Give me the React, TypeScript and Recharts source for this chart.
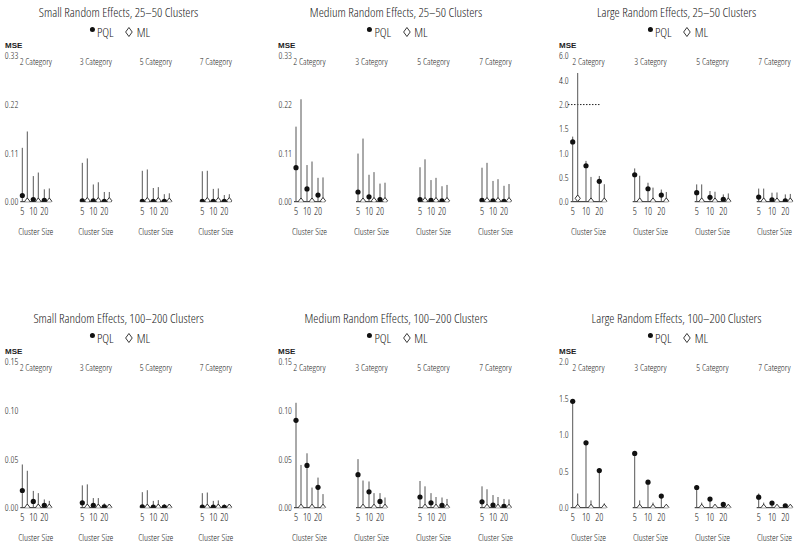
import { ScatterChart, Scatter, ErrorBar, XAxis, YAxis, ReferenceLine } from "recharts";

const categories = ["2 Category", "3 Category", "5 Category", "7 Category"];
const clusterSizes = ["5", "10", "20"];

// values run 2 Category [5, 10, 20], 3 Category [...], 5 Category [...], 7 Category [...]
const smallFewPql = [0.014, 0.005, 0.003, 0.002, 0.002, 0.001, 0.001, 0.001, 0.001, 0.001, 0.001, 0.001];
const smallFewPqlHi = [0.122, 0.058, 0.028, 0.088, 0.039, 0.022, 0.07, 0.031, 0.017, 0.069, 0.029, 0.015];
const smallFewMl = [0.001, 0.001, 0.001, 0.002, 0.002, 0.002, 0.002, 0.002, 0.001, 0.002, 0.002, 0.002];
const smallFewMlHi = [0.159, 0.066, 0.03, 0.098, 0.044, 0.022, 0.073, 0.033, 0.019, 0.07, 0.03, 0.017];

const mediumFewPql = [0.077, 0.029, 0.015, 0.022, 0.011, 0.005, 0.005, 0.003, 0.002, 0.003, 0.002, 0.001];
const mediumFewPqlHi = [0.17, 0.083, 0.054, 0.109, 0.061, 0.041, 0.078, 0.049, 0.035, 0.077, 0.047, 0.036];
const mediumFewMl = [0.001, 0.001, 0.002, 0.001, 0.002, 0.002, 0.002, 0.002, 0.002, 0.002, 0.002, 0.002];
const mediumFewMlHi = [0.232, 0.091, 0.055, 0.143, 0.067, 0.043, 0.096, 0.054, 0.038, 0.088, 0.051, 0.04];

const largeFewPql = [1.23, 0.74, 0.42, 0.555, 0.267, 0.137, 0.185, 0.09, 0.05, 0.096, 0.04, 0.015];
const largeFewPqlHi = [1.34, 0.84, 0.53, 0.685, 0.39, 0.25, 0.356, 0.22, 0.15, 0.27, 0.185, 0.15];
const largeFewMl = [0.07, 0.01, 0.01, 0.01, 0.01, 0.01, 0.01, 0.01, 0.01, 0.01, 0.01, 0.01];
const largeFewMlHi = [4.6, 0.51, 0.36, 0.534, 0.29, 0.2, 0.356, 0.205, 0.17, 0.27, 0.19, 0.16];

const smallManyPql = [0.0177, 0.0065, 0.0024, 0.005, 0.0024, 0.001, 0.001, 0.0007, 0.0005, 0.0005, 0.0005, 0.0003];
const smallManyPqlHi = [0.0445, 0.0173, 0.0085, 0.023, 0.0099, 0.0044, 0.016, 0.007, 0.0037, 0.015, 0.007, 0.0034];
const smallManyMl = [0.0004, 0.0004, 0.0004, 0.0004, 0.0004, 0.0004, 0.0004, 0.0004, 0.0004, 0.0004, 0.0004, 0.0004];
const smallManyMlHi = [0.038, 0.015, 0.007, 0.024, 0.0099, 0.0037, 0.018, 0.0078, 0.0037, 0.0156, 0.0075, 0.0037];

const mediumManyPql = [0.09, 0.0435, 0.021, 0.034, 0.0163, 0.0065, 0.011, 0.005, 0.0024, 0.006, 0.0027, 0.0014];
const mediumManyPqlHi = [0.108, 0.056, 0.031, 0.05, 0.027, 0.015, 0.0275, 0.015, 0.0105, 0.022, 0.013, 0.009];
const mediumManyMl = [0.0003, 0.0003, 0.0003, 0.0003, 0.0003, 0.0003, 0.0003, 0.0003, 0.0003, 0.0003, 0.0003, 0.0003];
const mediumManyMlHi = [0.044, 0.0207, 0.014, 0.028, 0.015, 0.0105, 0.022, 0.011, 0.009, 0.019, 0.011, 0.0085];

const largeManyPql = [1.46, 0.89, 0.51, 0.745, 0.35, 0.16, 0.277, 0.118, 0.045, 0.145, 0.064, 0.027];
const largeManyPqlHi = [1.49, 0.92, 0.54, 0.77, 0.38, 0.186, 0.31, 0.145, 0.07, 0.195, 0.086, 0.04];
const largeManyMl = [0.003, 0.003, 0.003, 0.003, 0.003, 0.003, 0.003, 0.003, 0.003, 0.003, 0.003, 0.003];
const largeManyMlHi = [0.195, 0.1, 0.06, 0.1, 0.07, 0.03, 0.07, 0.04, 0.02, 0.07, 0.03, 0.015];

const ticksFew = [0, 0.11, 0.22, 0.33];
const ticksMany = [0, 0.05, 0.1, 0.15];
const ticksLargeMany = [0, 0.5, 1, 1.5, 2];
const ticksLargeFew = [0, 0.5, 1, 1.5, 2, 4, 6];

const FONT = "'Open Sans', 'DejaVu Sans Condensed', sans-serif";
const INK = "#222";
const PAD = 3;

type Col = { left: number; x0: number; catStep: number; kStep: number; mStep: number; title: number; mse: number };
const columns: Col[] = [
  { left: 0, x0: 22.3, catStep: 60, kStep: 11, mStep: 5, title: 118.5, mse: 5 },
  { left: 262, x0: 296, catStep: 62, kStep: 11, mStep: 5, title: 396, mse: 278 },
  { left: 540, x0: 572.7, catStep: 62, kStep: 13.3, mStep: 5, title: 676.5, mse: 559 },
];

// broken axis above 2.0: 2..6 squeezed into one 0.5 step each 2 units
const squeeze = (v: number) => (v <= 2 ? v : 2 + (v - 2) / 4);
const plain = (v: number) => v;

type PanelProps = {
  title: string;
  top: number;
  col: Col;
  pql: number[];
  pqlHi: number[];
  ml: number[];
  mlHi: number[];
  ticks: number[];
  digits: number;
  broken?: boolean;
};

function Key({ cx, y }: { cx: number; y: number }) {
  return (
    <div
      style={{
        position: "absolute",
        left: cx,
        top: y,
        transform: "translate(-50%, -50%)",
        display: "flex",
        alignItems: "center",
        fontSize: 13,
        whiteSpace: "nowrap",
        lineHeight: "13px",
      }}
    >
      <svg width={6} height={13}>
        <circle cx={3} cy={4} r={2.5} fill="#111" />
      </svg>
      <span style={{ marginLeft: 2 }}>PQL</span>
      <svg width={9} height={13} style={{ marginLeft: 11 }}>
        <path d="M4.5,2 L7.8,6.5 L4.5,11 L1.2,6.5 Z" fill="none" stroke={INK} strokeWidth={0.9} />
      </svg>
      <span style={{ marginLeft: 3 }}>ML</span>
    </div>
  );
}

function Panel({ title, top, col, pql, pqlHi, ml, mlHi, ticks, digits, broken }: PanelProps) {
  const t = broken ? squeeze : plain;
  const { catStep, kStep, mStep } = col;
  const span = 3 * catStep + 2 * kStep + mStep;
  const plotLeft = col.x0 - PAD;
  const yWidth = plotLeft - col.left;
  const width = yWidth + span + 2 * PAD;
  const groupWidth = 2 * kStep + mStep;

  const build = (vals: number[], his: number[], shift: number) =>
    vals.map((v, i) => {
      const ci = Math.floor(i / 3);
      const ki = i % 3;
      const y = t(v);
      const hi = Math.max(t(his[i]), y);
      return { x: ci * catStep + ki * kStep + shift, y, err: [y, hi - y] };
    });

  const pqlRows = build(pql, pqlHi, 0);
  const mlRows = build(ml, mlHi, mStep);
  const sizeTicks = categories.flatMap((_, ci) => clusterSizes.map((_, ki) => ci * catStep + ki * kStep));
  const catTicks = categories.map((_, ci) => ci * catStep + groupWidth / 2);
  const yTicks = ticks.map(t);
  const domain = [-PAD, span + PAD];

  return (
    <>
      <div
        style={{
          position: "absolute",
          left: col.title,
          top: top + 11.5,
          transform: "translate(-50%, -50%)",
          fontSize: 13,
          whiteSpace: "nowrap",
        }}
      >
        {title}
      </div>
      <Key cx={col.title + 1} y={top + 32} />
      <div
        style={{
          position: "absolute",
          left: col.mse,
          top: top + 44.5,
          transform: "translateY(-50%)",
          fontFamily: "'Liberation Sans', Arial, sans-serif",
          fontWeight: "bold",
          fontStretch: "normal",
          fontSize: 8,
        }}
      >
        MSE
      </div>
      <div style={{ position: "absolute", left: col.left, top }}>
        <ScatterChart width={width} height={247} margin={{ top: 55, right: 0, bottom: 5.3, left: 0 }}>
          <XAxis
            xAxisId="a"
            type="number"
            dataKey="x"
            domain={domain}
            allowDataOverflow
            height={20}
            ticks={sizeTicks}
            interval={0}
            axisLine={false}
            tickLine={false}
            tickSize={0}
            tickMargin={6.5}
            tick={{ fontSize: 10, fill: INK }}
            tickFormatter={(v: number) => clusterSizes[sizeTicks.indexOf(v) % 3]}
          />
          <XAxis
            xAxisId="b"
            type="number"
            dataKey="x"
            domain={domain}
            allowDataOverflow
            height={20}
            ticks={catTicks}
            interval={0}
            axisLine={false}
            tickLine={false}
            tickSize={0}
            tickMargin={6.5}
            tick={{ fontSize: 9.5, fill: INK }}
            tickFormatter={() => "Cluster Size"}
          />
          <XAxis
            xAxisId="c"
            orientation="top"
            type="number"
            dataKey="x"
            domain={domain}
            allowDataOverflow
            height={1}
            ticks={catTicks}
            interval={0}
            axisLine={false}
            tickLine={false}
            tickSize={0}
            tickMargin={0}
            tick={(p: any) => (
              <text x={p.x} y={p.y + 9} textAnchor="middle" fontSize={9.5} fill={INK}>
                {categories[p.index]}
              </text>
            )}
          />
          <YAxis
            type="number"
            dataKey="y"
            domain={[0, yTicks[yTicks.length - 1]]}
            allowDataOverflow
            ticks={yTicks}
            interval={0}
            width={yWidth}
            axisLine={false}
            tickLine={false}
            tickSize={0}
            tickMargin={1}
            tick={{ fontSize: 9.5, fill: INK }}
            tickFormatter={(v: number) => ticks[yTicks.indexOf(v)].toFixed(digits)}
          />
          {categories.map((c, ci) => (
            <ReferenceLine
              key={c}
              xAxisId="a"
              segment={[
                { x: ci * catStep - 2, y: 0 },
                { x: ci * catStep + groupWidth + 2, y: 0 },
              ]}
              stroke={INK}
              strokeWidth={1}
            />
          ))}
          {broken && (
            <ReferenceLine
              xAxisId="a"
              ifOverflow="visible"
              segment={[
                { x: -4.7, y: 2 },
                { x: 27.3, y: 2 },
              ]}
              stroke={INK}
              strokeWidth={1}
              strokeDasharray="1.5 1.5"
            />
          )}
          <Scatter
            xAxisId="a"
            data={pqlRows}
            isAnimationActive={false}
            shape={(p: any) => <circle cx={p.cx} cy={p.cy} r={2.6} fill="#111" />}
          >
            <ErrorBar dataKey="err" direction="y" width={0} stroke="#555" strokeWidth={1} isAnimationActive={false} />
          </Scatter>
          <Scatter
            xAxisId="a"
            data={mlRows}
            isAnimationActive={false}
            shape={(p: any) => (
              <path
                d={`M${p.cx},${p.cy - 3.3}L${p.cx + 2.6},${p.cy}L${p.cx},${p.cy + 3.3}L${p.cx - 2.6},${p.cy}Z`}
                fill="#fff"
                stroke={INK}
                strokeWidth={0.9}
              />
            )}
          >
            <ErrorBar dataKey="err" direction="y" width={0} stroke="#555" strokeWidth={1} isAnimationActive={false} />
          </Scatter>
        </ScatterChart>
      </div>
    </>
  );
}

export default function App() {
  const lower = 306.3;
  return (
    <div
      style={{
        position: "absolute",
        left: 0,
        top: 0,
        width: 800,
        height: 547,
        background: "#fff",
        fontFamily: FONT,
        fontStretch: "condensed",
        fontWeight: 300,
        color: INK,
        overflow: "hidden",
      }}
    >
      <style>{".recharts-surface { overflow: visible; }"}</style>
      <Panel title="Small Random Effects, 25–50 Clusters" top={0} col={columns[0]} pql={smallFewPql} pqlHi={smallFewPqlHi} ml={smallFewMl} mlHi={smallFewMlHi} ticks={ticksFew} digits={2} />
      <Panel title="Medium Random Effects, 25–50 Clusters" top={0} col={columns[1]} pql={mediumFewPql} pqlHi={mediumFewPqlHi} ml={mediumFewMl} mlHi={mediumFewMlHi} ticks={ticksFew} digits={2} />
      <Panel title="Large Random Effects, 25–50 Clusters" top={0} col={columns[2]} pql={largeFewPql} pqlHi={largeFewPqlHi} ml={largeFewMl} mlHi={largeFewMlHi} ticks={ticksLargeFew} digits={1} broken />
      <Panel title="Small Random Effects, 100–200 Clusters" top={lower} col={columns[0]} pql={smallManyPql} pqlHi={smallManyPqlHi} ml={smallManyMl} mlHi={smallManyMlHi} ticks={ticksMany} digits={2} />
      <Panel title="Medium Random Effects, 100–200 Clusters" top={lower} col={columns[1]} pql={mediumManyPql} pqlHi={mediumManyPqlHi} ml={mediumManyMl} mlHi={mediumManyMlHi} ticks={ticksMany} digits={2} />
      <Panel title="Large Random Effects, 100–200 Clusters" top={lower} col={columns[2]} pql={largeManyPql} pqlHi={largeManyPqlHi} ml={largeManyMl} mlHi={largeManyMlHi} ticks={ticksLargeMany} digits={1} />
    </div>
  );
}
